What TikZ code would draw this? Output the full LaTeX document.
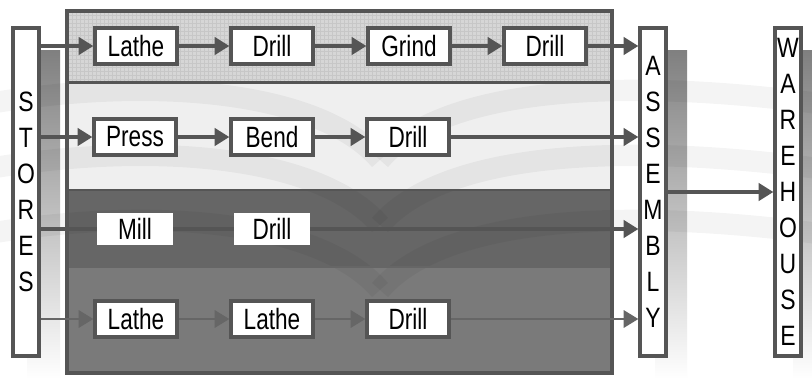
\documentclass[tikz,border=0pt]{standalone}
\usepackage{fontspec}
\setmainfont{Liberation Sans}
\newfontfamily\boxfont[FakeStretch=0.77]{Liberation Sans}
\newfontfamily\letterfont[FakeStretch=0.82]{Liberation Sans}
\usetikzlibrary{arrows.meta,patterns}
\definecolor{edge}{HTML}{555555}
\definecolor{shade}{HTML}{858585}
\definecolor{bandA}{HTML}{D6D6D6}
\definecolor{bandB}{HTML}{EFEFEF}
\definecolor{bandC}{HTML}{666666}
\definecolor{bandD}{HTML}{7A7A7A}
\begin{document}
\begin{tikzpicture}[x=0.75pt,y=-0.75pt,
  op/.style={draw=edge, fill=white, line width=3pt, inner sep=0pt,
    minimum width=61pt, minimum height=27pt,
    font=\boxfont\fontsize{22}{22}\selectfont},
  plainop/.style={fill=white, inner sep=0pt,
    minimum width=57pt, minimum height=24pt,
    font=\boxfont\fontsize{22}{22}\selectfont},
  tall/.style={draw=edge, fill=white, line width=3pt, inner sep=0pt,
    minimum width=19pt, minimum height=246pt, align=center,
    font=\letterfont\fontsize{21}{27}\selectfont},
  flow/.style={draw=edge, line width=2.4pt,
    -{Triangle[length=11pt,width=13pt]}},
  thinflow/.style={draw=edge!90!white, line width=1.7pt,
    -{Triangle[length=11pt,width=13pt]}},
  swoosh/.style={draw=black, line width=16pt, opacity=0.045}
]
\useasboundingbox (0,0) rectangle (812,379);
\fill[white] (0,0) rectangle (812,379);

% shadows behind the tall boxes
\fill[shade] (27,50) rectangle (60,379);
\fill[shade] (655,50) rectangle (687,379);
\fill[shade] (793,50) rectangle (812,379);

% the four line bands of the shop
\fill[bandA] (67,11) rectangle (612,82);
\fill[pattern=grid, pattern color=black!22] (67,11) rectangle (612,82);
\fill[bandB] (67,82) rectangle (612,190);
\fill[bandC] (67,190) rectangle (612,267);
\fill[bandD] (67,267) rectangle (612,373);

% faint open-book swooshes across the background
\foreach \v in {160,225,290} {
  \draw[swoosh] (380,\v) .. controls (320,\v-70) and (150,\v-85) .. (-20,\v-55);
  \draw[swoosh] (380,\v) .. controls (440,\v-70) and (610,\v-85) .. (830,\v-55);
}

\draw[edge, line width=2.25pt] (67,82) -- (612,82);
\draw[edge, line width=1.2pt] (67,190) -- (612,190);
\draw[edge!90!white, line width=1pt] (67,267) -- (612,267);
\draw[edge, line width=2.5pt] (67,11) rectangle (612,373);

% stores, assembly and warehouse
\node[tall] (stores) at (26,192) {S\\T\\O\\R\\E\\S};
\node[tall] (asm) at (653,192) {A\\S\\S\\E\\M\\B\\L\\Y};
\node[tall] (wh) at (788,192) {W\\A\\R\\E\\H\\O\\U\\S\\E};

% line 3 runs straight through its machines
\coordinate (r3) at (0,229);
\draw[flow] (stores.east |- r3) -- (asm.west |- r3);
\node[plainop] (mill3) at (135,229) {Mill};
\node[plainop] (drill3) at (272,229) {Drill};

% line 1
\node[op] (lathe1) at (136,46) {Lathe};
\node[op] (drill1a) at (272,46) {Drill};
\node[op] (grind1) at (409,46) {Grind};
\node[op] (drill1b) at (545,46) {Drill};
\draw[flow] (stores.east |- lathe1) -- (lathe1);
\draw[flow] (lathe1) -- (drill1a);
\draw[flow] (drill1a) -- (grind1);
\draw[flow] (grind1) -- (drill1b);
\draw[flow] (drill1b) -- (asm.west |- drill1b);

% line 2
\node[op] (press2) at (135,137) {Press};
\node[op] (bend2) at (272,137) {Bend};
\node[op] (drill2) at (408,137) {Drill};
\draw[flow] (stores.east |- press2) -- (press2);
\draw[flow] (press2) -- (bend2);
\draw[flow] (bend2) -- (drill2);
\draw[flow] (drill2) -- (asm.west |- drill2);

% line 4
\node[op] (lathe4a) at (136,319) {Lathe};
\node[op] (lathe4b) at (272,319) {Lathe};
\node[op] (drill4) at (408,319) {Drill};
\draw[thinflow] (stores.east |- lathe4a) -- (lathe4a);
\draw[thinflow] (lathe4a) -- (lathe4b);
\draw[thinflow] (lathe4b) -- (drill4);
\draw[thinflow] (drill4) -- (asm.west |- drill4);

% finished goods to the warehouse
\draw[flow] (asm.east |- 0,192) -- (wh.west |- 0,192);
\end{tikzpicture}
\end{document}
